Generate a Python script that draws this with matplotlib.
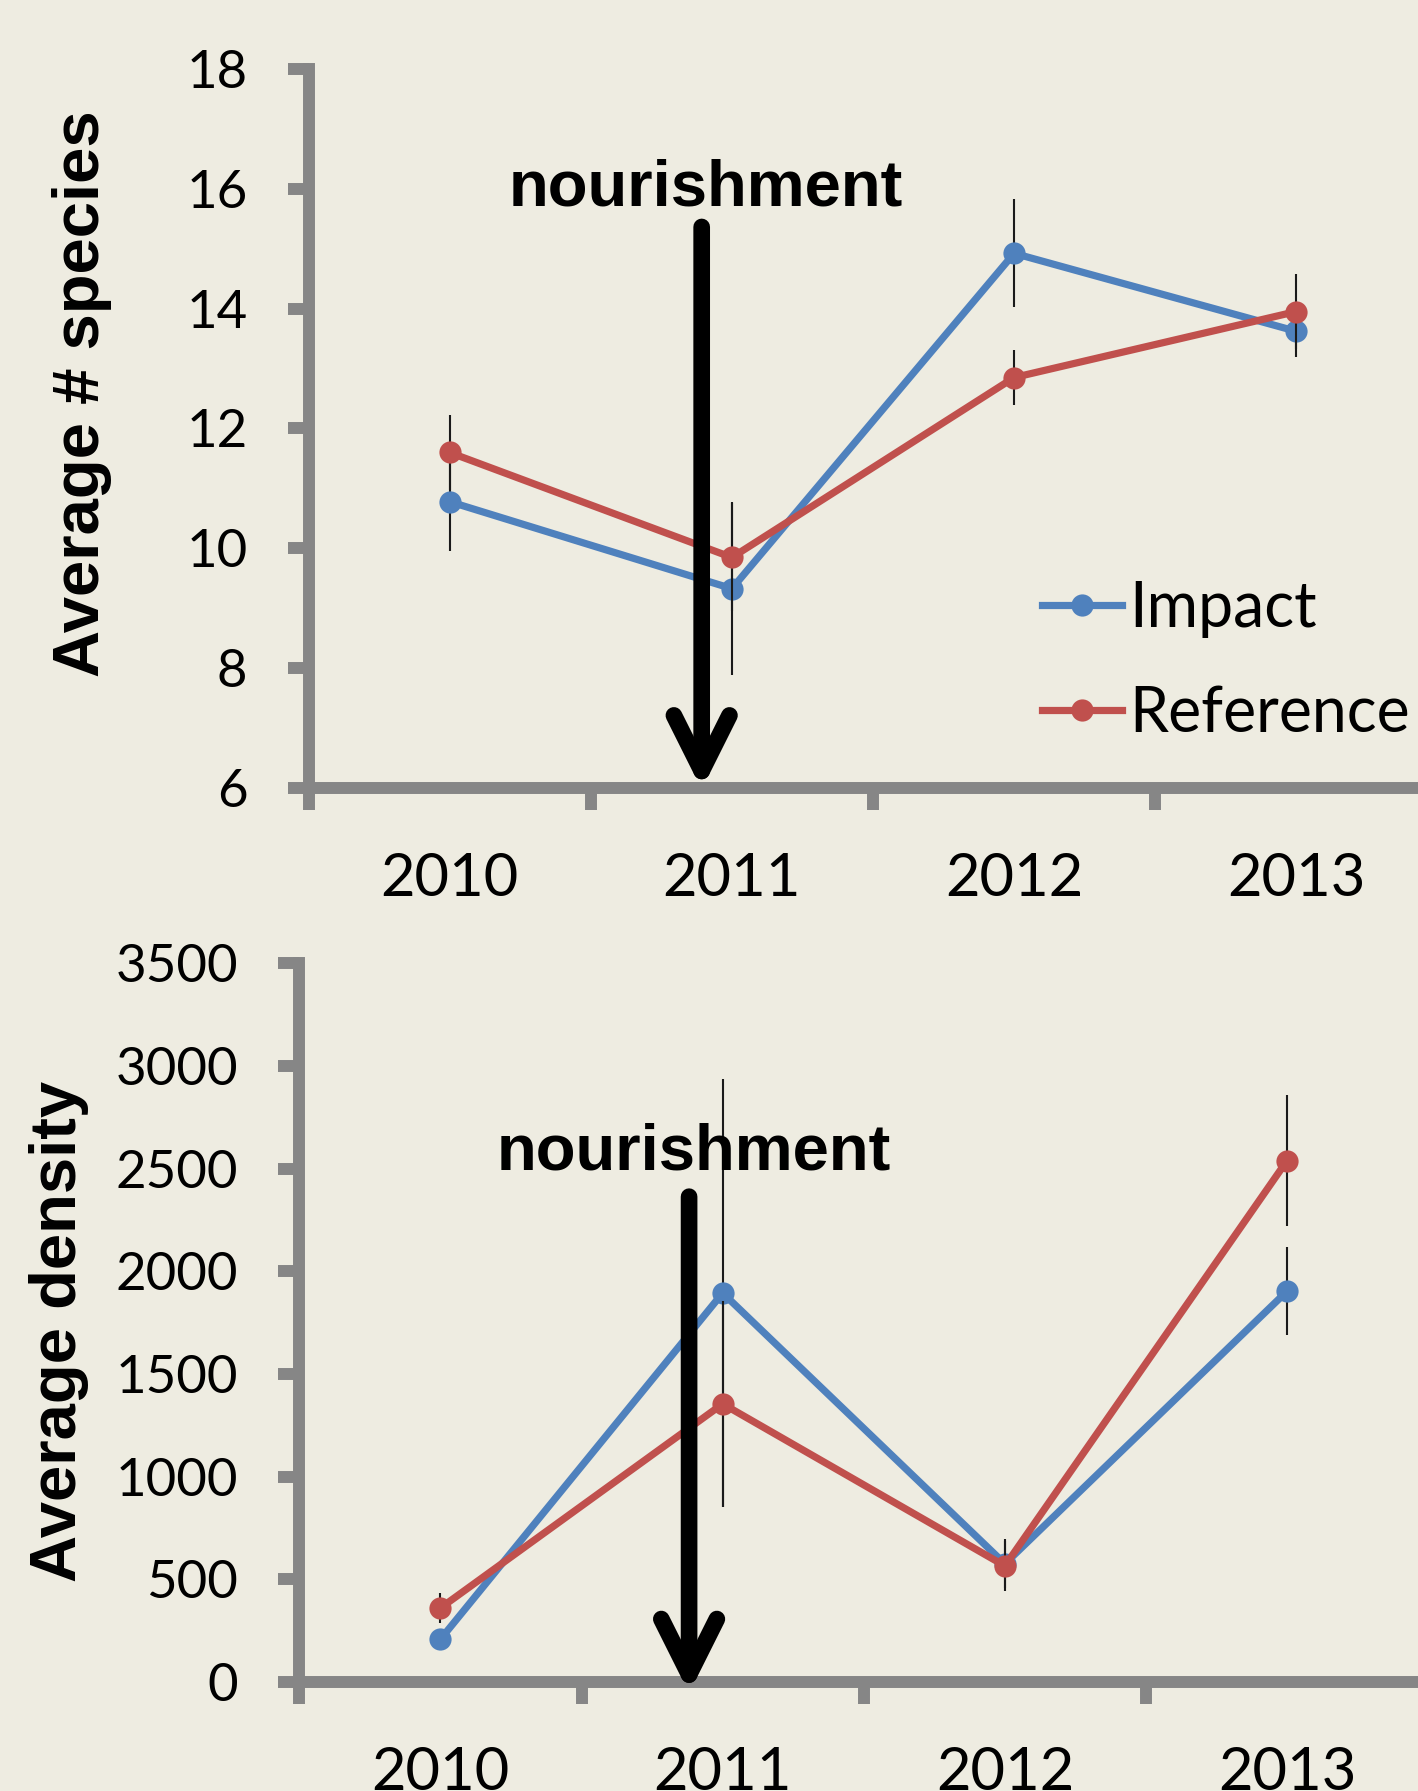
import numpy as np
import matplotlib
matplotlib.use("Agg")
import matplotlib.pyplot as plt

plt.rcParams['font.family'] = ['Lato', 'DejaVu Sans']

# data
years = ['2010', '2011', '2012', '2013']

species_impact = [10.78, 9.33, 14.92, 13.62]
species_impact_err = [0.82, 1.44, 0.90, 0.42]
species_ref = [11.60, 9.85, 12.85, 13.95]
species_ref_err = [0.62, 0.90, 0.46, 0.62]

density_impact = [208, 1894, 575, 1903]
density_impact_err = [40, 1040, 120, 215]
density_ref = [360, 1354, 565, 2539]
density_ref_err = [75, 500, 120, 320]

bg = '#EEECE1'
axcol = '#868686'
blue = '#4F81BD'
red = '#C0504D'

fig = plt.figure(figsize=(14.18, 17.91), dpi=100, facecolor=bg)
ax1 = fig.add_axes([0.2176, 0.5598, 0.7961, 0.4019])
ax2 = fig.add_axes([0.2111, 0.0609, 0.7961, 0.4013])

x = np.arange(len(years))


def style(ax, ylabel, label_xy):
    ax.set_facecolor('none')
    for s in ['top', 'right']:
        ax.spines[s].set_visible(False)
    for s in ['left', 'bottom']:
        ax.spines[s].set_color(axcol)
        ax.spines[s].set_linewidth(8.6)
    ax.set_xlim(-0.5, 3.5)
    ax.set_xticks(np.arange(-0.5, 4, 1))
    ax.set_xticklabels([])
    ax.set_xticks(x, minor=True)
    ax.set_xticklabels(years, minor=True)
    ax.tick_params(axis='x', which='major', direction='out', length=16,
                   width=8.6, color=axcol)
    ax.tick_params(axis='x', which='minor', length=0, pad=46, labelsize=43)
    ax.tick_params(axis='y', direction='out', length=15, width=8.6,
                   color=axcol, pad=29, labelsize=38)
    ax.set_ylabel(ylabel, family='Liberation Sans', fontweight='bold',
                  fontsize=47)
    ax.yaxis.label.set_va('center')
    ax.yaxis.set_label_coords(*label_xy)


def series(ax, imp, imp_err, ref, ref_err):
    ax.errorbar(x, imp, yerr=imp_err, fmt='none', ecolor='#1a1a1a',
                elinewidth=1.5, capsize=0, zorder=2)
    ax.plot(x, imp, '-o', color=blue, lw=5.2, ms=16, mew=0,
            label='Impact', zorder=3)
    ax.errorbar(x, ref, yerr=ref_err, fmt='none', ecolor='#1a1a1a',
                elinewidth=1.5, capsize=0, zorder=4)
    ax.plot(x, ref, '-o', color=red, lw=5.2, ms=16, mew=0,
            label='Reference', zorder=5)


def nourish(ax, xa, y_text, y_top, y_tip):
    ax.text(xa + 0.016, y_text, 'nourishment', family='Liberation Sans',
            fontweight='bold', fontsize=47, ha='center', va='baseline')
    ax.annotate('', xy=(xa, y_tip), xytext=(xa, y_top),
                arrowprops=dict(arrowstyle='->,head_length=2.0,head_width=1.0',
                                mutation_scale=20, lw=12, color='black',
                                shrinkA=0, shrinkB=0, capstyle='round'),
                annotation_clip=False, zorder=6)


# top panel: species
series(ax1, species_impact, species_impact_err, species_ref, species_ref_err)
style(ax1, 'Average # species', (-0.2006, 0.548))
ax1.set_ylim(6, 18)
ax1.set_yticks(range(6, 19, 2))
nourish(ax1, 0.893, 15.71, 15.36, 5.98)

ax1.legend(loc='center left', bbox_to_anchor=(0.7348, 0.6307),
           bbox_transform=fig.transFigure, frameon=False, fontsize=45,
           borderpad=0, borderaxespad=0, handlelength=1.28,
           handletextpad=0.11, labelspacing=0.76)

# bottom panel: density
series(ax2, density_impact, density_impact_err, density_ref, density_ref_err)
style(ax2, 'Average density', (-0.213, 0.488))
ax2.set_ylim(0, 3500)
ax2.set_yticks(range(0, 3501, 500))
nourish(ax2, 0.881, 2493, 2363, -55)

fig.savefig('out.png', dpi=100, facecolor=bg)
